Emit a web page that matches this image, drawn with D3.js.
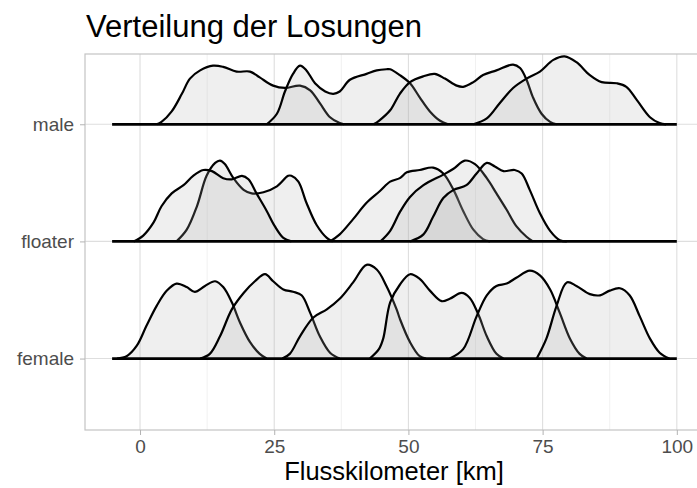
<!DOCTYPE html>
<html>
<head>
<meta charset="utf-8">
<script src="https://cdn.jsdelivr.net/npm/d3@7"></script>
<style>
  body { margin: 0; background: #fff; }
  text { font-family: "Liberation Sans", Arial, sans-serif; }
  .axis path { display: none; }
  .axis line { stroke: #b3b3b3; }
  .axis text { fill: #4d4d4d; font-size: 19px; }
</style>
</head>
<body>
<div id="chart"></div>
<script>
// rows from bottom to top
var rows = ["female", "floater", "male"];
var xTicks = [0, 25, 50, 75, 100];
var xMinor = [12.5, 37.5, 62.5, 87.5];
var densityRange = [-5.2, 100];

// density curves per row: [km, height in % of the row spacing]
var maleCurves = [
  [[3.1,0],[4.0,2],[5.9,11],[7.8,26],[9.3,39],[11.2,46],[13.6,50],[15.5,49],[18.0,45],[20.5,45],[22.3,40],[24.8,33],[27.0,31],[29.8,33],[31.7,29],[33.5,18],[35.4,6],[37.2,1],[38.0,0]],
  [[23.6,0],[25.5,9],[27.0,28],[28.5,43],[29.8,50],[31.0,46],[32.6,35],[34.5,28],[36.0,26],[37.2,28],[39.1,38],[42.2,43],[44.1,46],[45.9,47],[46.6,47],[48.4,42],[50.3,35],[52.1,23],[54.0,11],[55.9,3],[57.4,0]],
  [[43.5,0],[44.5,3],[46.6,12],[48.4,26],[50.3,36],[52.8,41],[54.9,43],[56.8,39],[59.0,33],[60.2,32],[62.1,36],[63.9,42],[66.4,46],[69.5,51],[70.8,48],[72.0,38],[73.2,23],[74.8,9],[76.4,2],[77.6,0]],
  [[62.1,0],[64.6,5],[67.0,18],[69.5,31],[72.0,39],[74.5,45],[77.0,55],[79.1,58],[81.3,53],[83.8,42],[86.0,36],[88.8,35],[90.6,32],[92.5,21],[95.0,6],[96.8,1],[98.0,0]]
];
var floaterCurves = [
  [[6.8,0],[8.7,10],[10.6,30],[12.4,56],[14.0,67],[14.9,69],[15.8,66],[17.4,54],[19.3,44],[20.8,41],[23.0,42],[25.5,47],[27.6,56],[28.2,56],[29.5,51],[31.0,33],[32.9,14],[34.8,3],[35.9,0]],
  [[-1.2,0],[0.6,5],[2.5,16],[4.0,30],[5.9,41],[8.1,48],[9.9,56],[11.8,61],[13.4,60],[15.5,54],[17.1,53],[19.0,56],[20.2,53],[21.7,41],[23.6,26],[25.1,13],[26.7,3],[28.2,0]],
  [[35.4,0],[37.2,6],[39.7,19],[42.2,33],[44.7,43],[46.6,51],[48.4,54],[49.7,59],[52.1,61],[54.6,63],[56.5,58],[58.4,44],[60.2,26],[62.1,10],[63.9,2],[65.2,0]],
  [[44.8,0],[46.6,9],[48.4,25],[50.3,38],[52.8,48],[56.5,57],[58.4,62],[60.5,69],[62.4,66],[64.6,54],[66.4,41],[68.3,27],[70.1,13],[72.0,4],[73.2,0]],
  [[50.3,0],[52.8,6],[54.6,21],[56.5,37],[58.4,44],[60.8,48],[62.7,58],[64.6,67],[66.1,64],[67.7,60],[69.8,61],[71.1,58],[72.6,44],[74.5,24],[76.4,9],[78.2,1],[79.5,0]]
];
var femaleCurves = [
  [[-4.3,0],[-2.5,2],[-0.6,11],[1.2,28],[3.1,45],[5.0,58],[6.8,64],[8.7,61],[10.2,57],[12.1,62],[14.0,66],[15.5,61],[17.1,48],[18.6,31],[20.5,14],[22.3,4],[23.6,0]],
  [[11.2,0],[13.0,4],[14.9,19],[17.1,42],[19.3,56],[21.4,66],[23.3,72],[24.8,66],[26.7,59],[28.5,57],[30.1,54],[31.7,39],[33.5,19],[35.4,5],[37.2,0]],
  [[26.5,0],[27.9,4],[29.8,19],[32.3,35],[34.8,42],[37.2,51],[39.7,65],[42.2,80],[44.1,76],[45.9,62],[47.8,42],[48.4,34],[50.3,14],[52.1,2],[53.3,0]],
  [[42.8,0],[44.5,8],[45.3,17],[46.6,48],[48.4,63],[50.3,72],[52.1,68],[54.0,58],[56.2,49],[57.7,51],[59.9,56],[61.4,52],[63.0,38],[64.6,19],[66.4,4],[67.7,0]],
  [[57.7,0],[60.2,8],[62.7,36],[64.6,54],[66.4,62],[68.3,64],[70.1,69],[72.6,75],[74.5,71],[76.4,59],[78.2,39],[80.1,17],[81.9,4],[83.2,0]],
  [[73.9,0],[75.7,17],[77.6,45],[79.5,65],[81.3,62],[83.8,55],[85.7,54],[87.5,58],[89.4,60],[91.2,54],[93.1,36],[95.0,17],[96.8,5],[98.6,0]]
];
var curvesByRow = [femaleCurves, floaterCurves, maleCurves];

var width = 697, height = 488;
var panel = {left: 85, right: 705, top: 54, bottom: 430};

var svg = d3.select("#chart").append("svg")
    .attr("width", width)
    .attr("height", height);

var x = d3.scaleLinear().domain([-10.25, 105.25]).range([panel.left, panel.right]);
// row index 1..3, ridge heights added as fraction of one row
var y = d3.scaleLinear().domain([0.39, 3.6]).range([panel.bottom, panel.top]);

svg.append("clipPath").attr("id", "clip")
  .append("rect")
    .attr("x", panel.left).attr("y", panel.top)
    .attr("width", panel.right - panel.left)
    .attr("height", panel.bottom - panel.top);

var g = svg.append("g").attr("clip-path", "url(#clip)");

// grid
g.selectAll(".minor").data(xMinor).enter().append("line")
    .attr("x1", d => x(d)).attr("x2", d => x(d))
    .attr("y1", panel.top).attr("y2", panel.bottom)
    .style("stroke", "#ebebeb").style("stroke-width", 0.7);
g.selectAll(".major").data(xTicks).enter().append("line")
    .attr("x1", d => x(d)).attr("x2", d => x(d))
    .attr("y1", panel.top).attr("y2", panel.bottom)
    .style("stroke", "#dedede").style("stroke-width", 1.1);
g.selectAll(".hmajor").data(rows).enter().append("line")
    .attr("x1", panel.left).attr("x2", panel.right)
    .attr("y1", (d, i) => y(i + 1)).attr("y2", (d, i) => y(i + 1))
    .style("stroke", "#dedede").style("stroke-width", 1.1);

// ridges, top row first so lower rows sit in front
[2, 1, 0].forEach(function(r) {
  var base = r + 1;
  var area = d3.area()
      .x(d => x(d[0]))
      .y0(y(base))
      .y1(d => y(base + d[1] / 100))
      .curve(d3.curveCatmullRom.alpha(0.5));
  var line = d3.line()
      .x(d => x(d[0]))
      .y(d => y(base + d[1] / 100))
      .curve(d3.curveCatmullRom.alpha(0.5));

  curvesByRow[r].forEach(function(pts) {
    g.append("path")
        .attr("d", area(pts))
        .style("fill", "#afafaf")
        .style("fill-opacity", 0.2)
        .style("stroke", "none");
    g.append("path")
        .attr("d", line(pts))
        .style("fill", "none")
        .style("stroke", "#000")
        .style("stroke-width", 2.2)
        .style("stroke-linejoin", "round");
  });

  g.append("line")
      .attr("x1", x(densityRange[0])).attr("x2", x(densityRange[1]))
      .attr("y1", y(base)).attr("y2", y(base))
      .style("stroke", "#000").style("stroke-width", 2.8);
});

// panel border
svg.append("rect")
    .attr("x", panel.left).attr("y", panel.top)
    .attr("width", panel.right - panel.left)
    .attr("height", panel.bottom - panel.top)
    .style("fill", "none").style("stroke", "#c4c4c4").style("stroke-width", 1.2);

// axes
svg.append("g")
    .attr("class", "axis")
    .attr("transform", "translate(0," + panel.bottom + ")")
    .call(d3.axisBottom(x).tickValues(xTicks).tickSize(5).tickPadding(4))
    .selectAll("text").attr("dy", "0.75em");

svg.append("g")
    .attr("class", "axis")
    .attr("transform", "translate(" + panel.left + ",0)")
    .call(d3.axisLeft(y).tickValues([1, 2, 3]).tickFormat(d => rows[d - 1]).tickSize(5).tickPadding(6));

svg.append("text")
    .attr("x", (panel.left + 697) / 2 + 3)
    .attr("y", 480)
    .attr("text-anchor", "middle")
    .style("font-size", "25.5px")
    .style("fill", "#000")
    .text("Flusskilometer [km]");

svg.append("text")
    .attr("x", panel.left + 1)
    .attr("y", 37)
    .style("font-size", "31px")
    .style("fill", "#000")
    .text("Verteilung der Losungen");
</script>
</body>
</html>
